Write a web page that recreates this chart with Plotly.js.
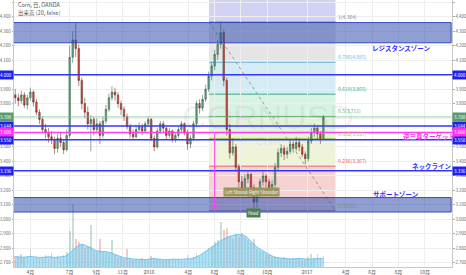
<!DOCTYPE html>
<html><head><meta charset="utf-8">
<script src="https://cdn.plot.ly/plotly-3.0.1.min.js"></script>
<style>html,body{margin:0;padding:0;background:#fff}#chart{width:466px;height:275px}</style>
</head><body><div id="chart"></div>
<script>
// weekly bars (mid-week dates), Corn / OANDA
const firstBarDate = '2015-02-25';
const open = [3.86,3.84,3.82,3.86,3.79,3.84,3.88,3.81,3.74,3.69,
3.62,3.60,3.57,3.55,3.49,3.56,3.53,3.48,3.58,4.12,
4.24,4.18,3.96,3.80,3.74,3.66,3.69,3.62,3.66,3.58,
3.68,3.76,3.84,3.88,3.86,3.80,3.76,3.71,3.64,3.59,
3.57,3.62,3.64,3.61,3.66,3.69,3.56,3.50,3.61,3.66,
3.63,3.58,3.61,3.55,3.58,3.62,3.66,3.60,3.52,3.56,
3.66,3.80,3.77,3.83,3.90,3.99,4.06,4.14,4.21,4.29,
3.96,3.62,3.46,3.50,3.36,3.26,3.21,3.28,3.31,3.22,
3.12,3.17,3.26,3.30,3.26,3.22,3.24,3.36,3.46,3.49,
3.45,3.47,3.52,3.49,3.53,3.50,3.45,3.42,3.54,3.60,
3.63,3.59,3.56];
const high = [3.90,3.87,3.89,3.88,3.86,3.91,3.89,3.83,3.76,3.71,
3.66,3.63,3.61,3.57,3.59,3.60,3.55,3.62,4.20,4.30,
4.36,4.21,3.98,3.84,3.78,3.72,3.71,3.70,3.68,3.71,
3.79,3.87,3.92,3.91,3.88,3.82,3.78,3.73,3.66,3.62,
3.65,3.67,3.66,3.68,3.71,3.70,3.58,3.63,3.68,3.68,
3.64,3.63,3.62,3.60,3.64,3.68,3.67,3.62,3.58,3.68,
3.82,3.83,3.86,3.93,4.02,4.09,4.17,4.24,4.364,4.31,
3.98,3.66,3.56,3.52,3.38,3.30,3.31,3.34,3.32,3.24,
3.20,3.28,3.33,3.31,3.28,3.27,3.39,3.49,3.52,3.51,
3.50,3.55,3.54,3.57,3.56,3.52,3.47,3.57,3.63,3.66,
3.65,3.61,3.72];
const low = [3.80,3.78,3.80,3.77,3.76,3.82,3.78,3.72,3.66,3.60,
3.56,3.53,3.52,3.45,3.46,3.50,3.45,3.47,3.56,4.08,
4.12,3.92,3.76,3.70,3.62,3.47,3.58,3.60,3.52,3.56,
3.66,3.74,3.82,3.82,3.77,3.72,3.68,3.62,3.56,3.55,
3.56,3.60,3.58,3.60,3.64,3.54,3.47,3.49,3.59,3.60,
3.55,3.56,3.53,3.53,3.56,3.60,3.58,3.48,3.49,3.54,
3.64,3.73,3.75,3.81,3.88,3.96,4.03,4.10,4.18,3.92,
3.58,3.42,3.44,3.33,3.22,3.17,3.19,3.25,3.19,3.059,
3.08,3.15,3.23,3.22,3.17,3.18,3.22,3.34,3.43,3.41,
3.42,3.45,3.46,3.47,3.47,3.43,3.38,3.40,3.52,3.57,
3.55,3.52,3.55];
const close = [3.84,3.82,3.86,3.79,3.84,3.88,3.81,3.74,3.69,3.62,
3.60,3.57,3.55,3.49,3.56,3.53,3.48,3.58,4.12,4.24,
4.18,3.96,3.80,3.74,3.66,3.69,3.62,3.66,3.58,3.68,
3.76,3.84,3.88,3.86,3.80,3.76,3.71,3.64,3.59,3.57,
3.62,3.64,3.61,3.66,3.69,3.56,3.50,3.61,3.66,3.63,
3.58,3.61,3.55,3.58,3.62,3.66,3.60,3.52,3.56,3.66,
3.80,3.77,3.83,3.90,3.99,4.06,4.14,4.21,4.29,3.96,
3.62,3.46,3.50,3.36,3.26,3.21,3.28,3.31,3.22,3.12,
3.17,3.26,3.30,3.26,3.22,3.24,3.36,3.46,3.49,3.45,
3.47,3.52,3.49,3.53,3.50,3.45,3.42,3.54,3.60,3.63,
3.59,3.56,3.708];
const volume = [3.6,3.2,4.5,3.0,3.8,6.0,3.1,3.5,2.9,3.4,
3.9,3.0,4.8,3.3,3.6,3.1,3.9,5.0,12.0,21.0,
9.5,8.2,7.8,6.5,7.0,14.0,5.5,5.0,9.5,5.0,
4.8,4.5,9.0,4.0,3.5,3.2,2.8,6.0,2.6,2.4,
2.7,2.5,3.0,2.4,2.2,3.8,3.0,2.6,2.8,2.4,
2.5,2.3,2.6,2.7,2.9,2.5,2.4,4.0,2.8,3.2,
4.6,3.6,4.8,5.5,6.4,7.0,8.2,9.0,15.0,12.5,
13.0,10.5,9.5,11.0,10.0,11.5,10.0,9.0,8.0,9.5,
6.0,5.5,5.0,4.2,4.0,3.5,3.3,3.0,2.9,3.2,
2.7,2.6,3.0,2.8,2.6,2.5,2.3,3.4,4.5,3.0,
4.2,3.0,3.6];
const volumeMA = [3.5,3.4,3.3,3.3,3.4,3.5,3.4,3.3,3.2,3.2,
3.3,3.4,3.3,3.2,3.3,3.4,3.5,3.8,4.6,5.6,
6.5,7.2,7.5,7.3,6.8,6.4,5.8,5.4,5.2,5.2,
5.1,4.9,4.6,4.2,3.8,3.4,3.1,2.9,2.8,2.7,
2.6,2.6,2.5,2.5,2.6,2.7,2.8,2.7,2.6,2.5,
2.5,2.5,2.6,2.6,2.5,2.6,2.7,2.7,2.8,3.0,
3.4,3.9,4.5,5.2,5.9,6.6,7.3,8.0,8.7,9.3,
9.8,10.2,10.5,10.7,10.8,10.7,10.4,9.6,8.6,7.6,
6.7,6.0,5.4,4.8,4.2,3.7,3.3,3.1,3.0,2.8,
2.8,2.7,2.7,2.8,2.9,2.8,2.7,2.6,2.6,2.7,
2.8,2.8,2.9];

const tickDates = ['2015-04-01','2015-07-01','2015-09-01','2015-11-01','2016-01-01','2016-04-01','2016-06-01','2016-08-01','2016-10-01','2017-01-01','2017-04-01','2017-06-01','2017-08-01','2017-10-01'];
const tickLabels = ['4月','7月','9月','11月','2016','4月','6月','8月','10月','2017','4月','6月','8月','10月'];

const fibRatios = ['0','0.236','0.382','0.5','0.618','0.786','1'];
const fibPrices = [3.059,3.367,3.557,3.711,3.865,4.085,4.364];
const fibStart = '2016-05-19', fibEnd = '2017-03-08';

const blueLevels = [4.000, 3.644, 3.550, 3.336];
const targetLevel = 3.600;
const lastPrice = 3.708;
const resistanceZone = [4.22, 4.36];
const supportZone = [3.05, 3.15];

// ---------- build ----------
const DAY = 86400000;
const t0 = Date.parse(firstBarDate + 'T00:00:00Z');
const dates = close.map((_, i) => new Date(t0 + i * 7 * DAY).toISOString().slice(0, 10));
const upVol = 'rgba(107,165,131,0.35)', dnVol = 'rgba(215,84,66,0.30)';
const volColors = close.map((c, i) => c >= open[i] ? upVol : dnVol);

const FONT = 'Noto Sans CJK JP, Noto Sans, DejaVu Sans, sans-serif';
const yRange = [2.670, 4.516];
const L = 14, R = 452, B = 267;

const traces = [
  {type:'bar', x:dates, y:volume, yaxis:'y3', marker:{color:volColors, line:{width:0}}, width:4*DAY, hoverinfo:'skip'},
  {type:'scatter', mode:'lines', x:dates, y:volumeMA, yaxis:'y3', line:{color:'rgba(80,180,235,0.9)', width:0.8, shape:'spline'}, fill:'tozeroy', fillcolor:'rgba(110,200,240,0.55)', hoverinfo:'skip'},
  {type:'candlestick', x:dates, open:open, high:high, low:low, close:close, xaxis:'x', yaxis:'y',
   increasing:{line:{color:'#225437', width:0.5}, fillcolor:'#6ba583'},
   decreasing:{line:{color:'#5b1a13', width:0.5}, fillcolor:'#d75442'},
   whiskerwidth:0},
  {type:'scatter', mode:'markers', x:[dates[0]], y:[3.5], yaxis:'y2', marker:{opacity:0}, hoverinfo:'skip'}
];

const shapes = [];
const bandColors = ['rgba(240,180,180,0.6)','rgba(232,240,200,0.7)','rgba(215,238,200,0.7)','rgba(200,238,215,0.7)','rgba(195,228,240,0.7)','rgba(220,220,220,0.75)','rgba(195,195,240,0.75)'];
const levelColors = ['#888888','#e06666','#9cbd4a','#5cb85c','#3cae7a','#6bb6e0','#888888'];
for (let i = 0; i < fibPrices.length; i++) {
  const y0 = fibPrices[i], y1 = i < fibPrices.length - 1 ? fibPrices[i+1] : 5;
  shapes.push({type:'rect', xref:'x', yref:'y', x0:fibStart, x1:fibEnd, y0:y0, y1:y1, fillcolor:bandColors[i], line:{width:0}, layer:'below'});
}
fibPrices.forEach((p, i) => shapes.push({type:'line', xref:'x', yref:'y', x0:fibStart, x1:fibEnd, y0:p, y1:p, line:{color:levelColors[i], width:1}, layer:'below'}));
shapes.push({type:'line', xref:'x', yref:'y', x0:fibStart, x1:fibEnd, y0:fibPrices[6], y1:fibPrices[0], line:{color:'#999', width:1, dash:'dot'}});
shapes.push({type:'line', xref:'paper', yref:'y', x0:0, x1:1, y0:lastPrice, y1:lastPrice, line:{color:'rgba(120,190,140,0.7)', width:1}});
[resistanceZone, supportZone].forEach(z => shapes.push({type:'rect', xref:'x', yref:'y', x0:'2015-01-01', x1:'2017-12-01', y0:z[0], y1:z[1], fillcolor:'rgba(40,70,170,0.52)', line:{color:'rgba(40,60,190,0.9)', width:1}}));
blueLevels.forEach(v => shapes.push({type:'line', xref:'paper', yref:'y', x0:0, x1:1, y0:v, y1:v, line:{color:'#3434ff', width:1.5}}));
shapes.push({type:'line', xref:'paper', yref:'y', x0:0, x1:1, y0:targetLevel, y1:targetLevel, line:{color:'#ff3cf0', width:1.5}});

const annotations = [];
const px = v => (v - L) / (R - L), py = v => 1 - v / B;
// faint symbol watermark
annotations.push({xref:'paper', yref:'paper', x:px(268), y:py(117), text:'CORNUSD', showarrow:false, font:{family:'Liberation Sans, Arial, sans-serif', size:34, color:'rgba(120,120,120,0.10)'}});
annotations.push({xref:'paper', yref:'paper', x:px(268), y:py(141), text:'Corn', showarrow:false, font:{family:'Liberation Sans, Arial, sans-serif', size:11, color:'rgba(120,120,120,0.12)'}});

function axisLabel(v, color) {
  [[0,'right'],[1,'left']].forEach(([p, anc]) => annotations.push({xref:'paper', yref:'y', x:p, xanchor:anc, y:v, yanchor:'middle', text:v.toFixed(3), showarrow:false, bgcolor:color, borderpad:1, font:{family:FONT, size:4.5, color:'#fff'}}));
}
blueLevels.forEach(v => axisLabel(v, '#2020ee'));
axisLabel(targetLevel, '#ff2ef0');
axisLabel(lastPrice, '#5a9a6a');

fibPrices.forEach((p, i) => annotations.push({xref:'x', yref:'y', x:'2017-03-10', xanchor:'left', y:p, yanchor:'bottom', text:fibRatios[i] + '(' + p.toFixed(3) + ')', showarrow:false, font:{family:FONT, size:5, color:levelColors[i]}}));

const jp = (text, x, y, color) => annotations.push({xref:'paper', yref:'paper', x:px(x), y:py(y), xanchor:'center', yanchor:'middle', text:'<b>'+text+'</b>', showarrow:false, font:{family:FONT, size:6.5, color:color}});
jp('レジスタンスゾーン', 401, 48, '#3030ff');
jp('逆三尊ターゲット', 429, 136, '#ff30f0');
jp('ネックライン', 432, 166, '#3030ff');
jp('サポートゾーン', 396, 194, '#3030ff');

annotations.push({xref:'paper', yref:'paper', x:px(16), y:py(5), xanchor:'left', yanchor:'middle', text:'Corn, 日, OANDA', showarrow:false, font:{family:FONT, size:5.5, color:'#555'}});
annotations.push({xref:'paper', yref:'paper', x:px(16), y:py(13), xanchor:'left', yanchor:'middle', text:'出来高 (20, false)', showarrow:false, font:{family:FONT, size:5.5, color:'#555'}});

annotations.push({xref:'x', yref:'y', x:'2016-07-27', y:3.19, text:'Left Shoulder', showarrow:false, bgcolor:'#9a9460', borderpad:1, font:{family:FONT, size:4.2, color:'#fff'}});
annotations.push({xref:'x', yref:'y', x:'2016-09-22', y:3.19, text:'Right Shoulder', showarrow:false, bgcolor:'#9a9460', borderpad:1, font:{family:FONT, size:4.2, color:'#fff'}});
annotations.push({xref:'x', yref:'y', x:'2016-08-31', y:3.04, text:'Head', showarrow:false, bgcolor:'#4f7f4f', borderpad:1, font:{family:FONT, size:4.2, color:'#fff'}});
annotations.push({xref:'x', yref:'y', x:'2016-06-01', y:3.06, axref:'x', ayref:'y', ax:'2016-06-01', ay:targetLevel, text:'', showarrow:true, arrowhead:2, arrowsize:1, arrowwidth:1, arrowcolor:'#ff3cf0'});

const yCommon = {range:yRange, dtick:0.1, tick0:2.7, tickformat:'.3f', ticks:'outside', ticklen:1.5, tickcolor:'#aaa', tickfont:{family:FONT, size:4.4, color:'#666'}, showline:true, linecolor:'#c8c8c8', linewidth:1, zeroline:false};

const layout = {
  width:466, height:275, margin:{l:L, r:466-R, t:0, b:275-B},
  paper_bgcolor:'#fff', plot_bgcolor:'#fff', showlegend:false, dragmode:false,
  xaxis:{type:'date', range:['2015-02-22','2017-12-03'], rangeslider:{visible:false}, tickvals:tickDates, ticktext:tickLabels, tickfont:{family:FONT, size:5, color:'#555'}, ticks:'', showgrid:true, gridcolor:'#eeeeee', gridwidth:1, showline:true, linecolor:'#c8c8c8', zeroline:false},
  yaxis:Object.assign({side:'left', showgrid:true, gridcolor:'#eeeeee'}, yCommon),
  yaxis2:Object.assign({side:'right', overlaying:'y', showgrid:false}, yCommon),
  yaxis3:{overlaying:'y', range:[0, 89], visible:false, showgrid:false},
  shapes:shapes, annotations:annotations, bargap:0
};
Plotly.newPlot('chart', traces, layout, {displayModeBar:false, staticPlot:true});
</script></body></html>
